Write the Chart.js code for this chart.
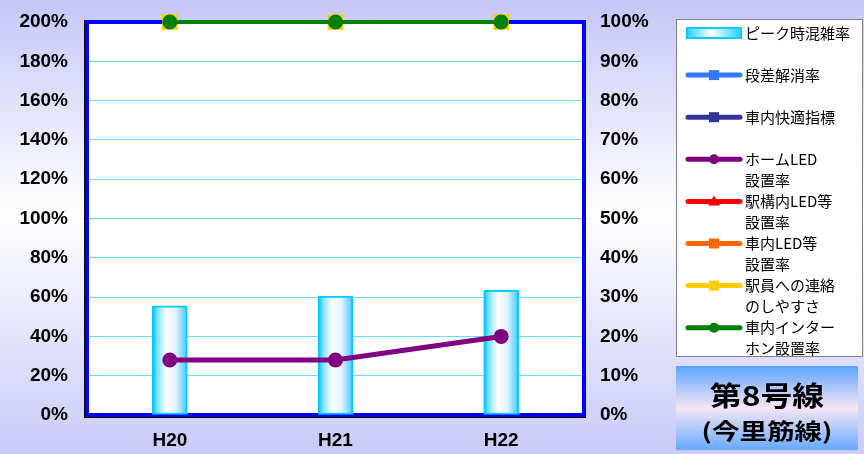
<!DOCTYPE html>
<html>
<head>
<meta charset="utf-8">
<script src="https://cdn.jsdelivr.net/npm/chart.js@4/dist/chart.umd.min.js"></script>
<style>
  body { margin: 0; background: #fff; }
  #wrap { width: 864px; height: 454px; }
</style>
</head>
<body>
<div id="wrap"><canvas id="chart" width="864" height="454"></canvas></div>
<script>
// data
var categories = ['H20', 'H21', 'H22'];
var peakCongestion = [55.5, 60.5, 63.5];   // left axis (%)
var stepRemoval = [null, null, null];
var comfortIndex = [null, null, null];
var homeLed = [14, 14, 20];                // right axis (%)
var stationLed = [null, null, null];
var carLed = [null, null, null];
var staffContact = [100, 100, 100];
var intercom = [100, 100, 100];
var leftTicks = [0, 20, 40, 60, 80, 100, 120, 140, 160, 180, 200];
var rightTicks = [0, 10, 20, 30, 40, 50, 60, 70, 80, 90, 100];
var lineTitle = ['第8号線', '(今里筋線)'];

function barFill(ctx) {
    var chart = ctx.chart;
    if (!chart.chartArea || ctx.dataIndex === undefined) return '#bdefff';
    var x = chart.scales.x.getPixelForValue(ctx.dataIndex);
    var g = chart.ctx.createLinearGradient(x - 17, 0, x + 17, 0);
    g.addColorStop(0, '#00c8ff');
    g.addColorStop(0.15, '#88e4ff');
    g.addColorStop(0.4, '#ffffff');
    g.addColorStop(0.68, '#dff3ff');
    g.addColorStop(1, '#44c8ff');
    return g;
}

function lineSet(label, data, color, style, order, radius, width) {
    return {
        type: 'line', label: label, data: data, yAxisID: 'y2', order: order,
        borderColor: color, backgroundColor: color, borderWidth: width,
        pointStyle: style, pointRadius: radius, pointHoverRadius: radius,
        pointBorderWidth: 0, spanGaps: false, clip: false
    };
}

var bgPlugin = {
    id: 'bg',
    beforeDraw: function(chart) {
        var c = chart.ctx, a = chart.chartArea;
        var g = c.createLinearGradient(0, 0, 0, chart.height);
        g.addColorStop(0, '#c6c6f8');
        g.addColorStop(0.47, '#ffffff');
        g.addColorStop(1, '#cacaf8');
        c.save();
        c.fillStyle = g;
        c.fillRect(0, 0, chart.width, chart.height);
        c.fillStyle = '#ffffff';
        c.fillRect(a.left, a.top, a.right - a.left, a.bottom - a.top);
        c.restore();
    },
    beforeDatasetsDraw: function(chart) {
        var c = chart.ctx, a = chart.chartArea;
        c.save();
        c.strokeStyle = '#000000';
        c.lineWidth = 1;
        c.strokeRect(a.left - 2.5, a.top - 1.5, a.right - a.left + 4, a.bottom - a.top + 4);
        c.strokeStyle = '#0000ff';
        c.lineWidth = 4;
        c.strokeRect(a.left, a.top, a.right - a.left, a.bottom - a.top);
        c.restore();
    }
};

function drawMarker(c, style, x, y, color) {
    c.fillStyle = color;
    c.beginPath();
    if (style === 'circle') {
        c.arc(x, y, 5, 0, Math.PI * 2);
    } else if (style === 'triangle') {
        c.moveTo(x, y - 6); c.lineTo(x + 6, y + 4); c.lineTo(x - 6, y + 4); c.closePath();
    } else {
        c.rect(x - 5, y - 5, 10, 10);
    }
    c.fill();
}

var legendPlugin = {
    id: 'sideLegend',
    afterDraw: function(chart) {
        var c = chart.ctx;
        c.save();
        c.fillStyle = '#ffffff';
        c.fillRect(676, 19, 186, 337);
        c.strokeStyle = '#808080';
        c.lineWidth = 1;
        c.strokeRect(676.5, 19.5, 186, 337);
        chart.data.datasets.forEach(function(ds, i) {
            var y = 33 + i * 42.1;
            if (ds.type === 'bar') {
                var g = c.createLinearGradient(686, 0, 742, 0);
                g.addColorStop(0, '#22ccff');
                g.addColorStop(0.45, '#ffffff');
                g.addColorStop(1, '#22ccff');
                c.fillStyle = g;
                c.fillRect(687, y - 5, 54, 10);
                c.strokeStyle = '#00ccff';
                c.lineWidth = 2;
                c.strokeRect(687, y - 5, 54, 10);
            } else {
                c.strokeStyle = ds.borderColor;
                c.lineWidth = 5;
                c.lineCap = 'round';
                c.beginPath();
                c.moveTo(688, y); c.lineTo(740, y);
                c.stroke();
                drawMarker(c, ds.pointStyle, 714, y, ds.borderColor);
            }
            c.fillStyle = '#000000';
            c.font = '15px "Noto Sans CJK JP"';
            c.textBaseline = 'middle';
            c.textAlign = 'left';
            ds.label.split('\n').forEach(function(t, k) {
                c.fillText(t, 745, y + k * 20.5);
            });
        });

        // line name box
        var bx = 676, by = 366, bw = 182, bh = 84;
        var g2 = c.createLinearGradient(0, by, 0, by + bh);
        g2.addColorStop(0, '#5aa4ff');
        g2.addColorStop(0.5, '#f6e6f4');
        g2.addColorStop(1, '#66aaff');
        c.fillStyle = g2;
        c.fillRect(bx, by, bw, bh);
        c.fillStyle = '#000000';
        c.textAlign = 'center';
        c.textBaseline = 'middle';
        var cx = bx + bw / 2;
        c.save();
        c.translate(cx, 396);
        c.scale(1.18, 1);
        c.font = 'bold 27px "Noto Sans CJK JP"';
        c.fillText(lineTitle[0], 0, 0);
        c.restore();
        c.save();
        c.translate(cx, 431);
        c.scale(1.25, 1);
        c.font = 'bold 22px "Noto Sans CJK JP"';
        c.fillText(lineTitle[1], 0, 0);
        c.restore();
        c.restore();
    }
};

var tickFont = { family: '"Liberation Sans", Arial, sans-serif', size: 19, weight: 'bold' };

new Chart(document.getElementById('chart'), {
    data: {
        labels: categories,
        datasets: [
            {
                type: 'bar', label: 'ピーク時混雑率', data: peakCongestion, yAxisID: 'y', order: 20,
                backgroundColor: barFill, borderColor: '#00ccff', borderWidth: 2,
                borderSkipped: false, barThickness: 35
            },
            lineSet('段差解消率', stepRemoval, '#3377ff', 'rect', 7, 6, 4),
            lineSet('車内快適指標', comfortIndex, '#333399', 'rect', 6, 6, 4),
            lineSet('ホームLED\n設置率', homeLed, '#800080', 'circle', 5, 7.5, 5),
            lineSet('駅構内LED等\n設置率', stationLed, '#ff0000', 'triangle', 4, 7, 4),
            lineSet('車内LED等\n設置率', carLed, '#ff6600', 'rect', 3, 7, 4),
            lineSet('駅員への連絡\nのしやすさ', staffContact, '#ffcc00', 'rect', 2, 11, 4),
            lineSet('車内インター\nホン設置率', intercom, '#008000', 'circle', 1, 7.5, 4)
        ]
    },
    options: {
        responsive: false,
        animation: false,
        layout: { autoPadding: false, padding: { left: 0, right: 194, top: 22, bottom: 0 } },
        plugins: { legend: { display: false }, tooltip: { enabled: false } },
        scales: {
            x: {
                offset: true,
                grid: { display: false, drawTicks: false },
                border: { display: false },
                ticks: { color: '#000', font: tickFont, padding: 14 },
                afterFit: function(s) { s.height = 39; s.paddingLeft = 0; s.paddingRight = 0; }
            },
            y: {
                position: 'left', min: 0, max: 200,
                afterBuildTicks: function(s) { s.ticks = leftTicks.map(function(v) { return { value: v }; }); },
                grid: { color: '#66ddf6', lineWidth: 1, drawTicks: false },
                border: { display: false },
                ticks: { color: '#000', font: tickFont, padding: 19, callback: function(v) { return v + '%'; } },
                afterFit: function(s) { s.width = 87; s.paddingTop = 0; s.paddingBottom = 0; }
            },
            y2: {
                position: 'right', min: 0, max: 100,
                afterBuildTicks: function(s) { s.ticks = rightTicks.map(function(v) { return { value: v }; }); },
                grid: { display: false, drawTicks: false },
                border: { display: false },
                ticks: { color: '#000', font: tickFont, padding: 16, callback: function(v) { return v + '%'; } },
                afterFit: function(s) { s.width = 86; s.paddingTop = 0; s.paddingBottom = 0; }
            }
        }
    },
    plugins: [bgPlugin, legendPlugin]
});
</script>
</body>
</html>
